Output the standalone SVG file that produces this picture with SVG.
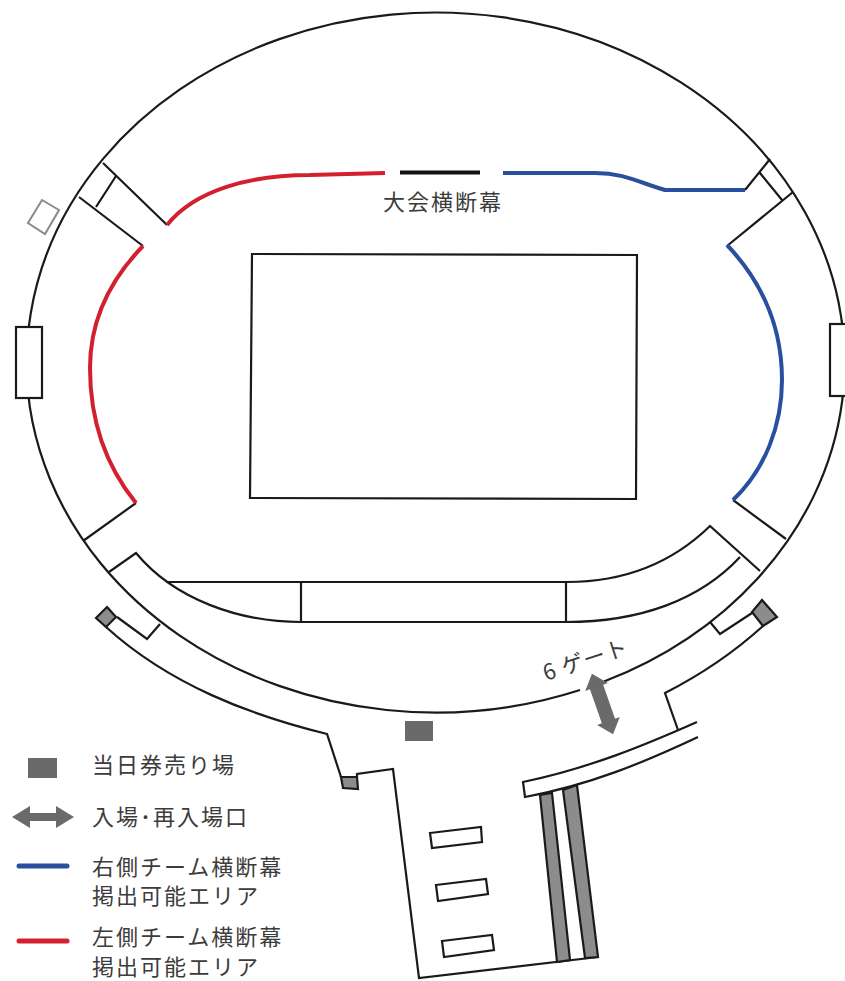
<svg xmlns="http://www.w3.org/2000/svg" width="845" height="981" viewBox="0 0 845 981">
<style>
.l{fill:none;stroke:#1a1a1a;stroke-width:2.2;stroke-linejoin:miter}
.w{fill:#fff;stroke:#1a1a1a;stroke-width:2.2}
.g{fill:#8c8c8c;stroke:#1a1a1a;stroke-width:2.2}
.s{fill:#6a6a6a;stroke:none}
.r{fill:none;stroke:#d3202e;stroke-width:4}
.b{fill:none;stroke:#2a4f9e;stroke-width:4}
text{font-family:"Noto Sans CJK JP","Noto Sans",sans-serif;font-size:22px;letter-spacing:2px;fill:#3c3c3c}
</style>
<defs>
<polygon id="arrow" class="s" points="-31,0 -13,-11 -13,-4 13,-4 13,-11 31,0 13,11 13,4 -13,4 -13,11"/>
<polygon id="gate-arrow" class="s" points="-32,0 -18,-12 -18,-7 18,-7 18,-12 32,0 18,12 18,7 -18,7 -18,12"/>
</defs>
<rect width="845" height="981" fill="#fff"/>
<g id="stadium-outline">
<path class="l" d="M604,681.500 A409,350 0 1 0 580,690"/>
<rect class="w" x="16" y="327" width="26" height="71"/>
<rect class="w" x="830" y="324" width="20" height="72"/>
<polygon points="42,200 59,210 45,234 28,223" fill="#fff" stroke="#8a8a8a" stroke-width="2"/>
</g>
<g id="pitch"><polygon class="w" points="252,254 637,255 636,499 250,498"/></g>
<g id="stands">
<path class="l" d="M143,246 L79,197 M167,225 L103,163 M116,176 L96,207"/>
<path class="l" d="M745,190 L770,159 M727,246 L793,192 M760,173 L782,200"/>
<path class="l" d="M136,503 L83,541 M733,500 L786,539"/>
<path class="l" d="M109,572 L136,553 C175,600 240,622 301,622 L566,622 C640,622 700,600 740,557"/>
<path class="l" d="M166,582 L567,582 C620,582 670,565 710,526 L760,571"/>
<path class="l" d="M301,582 V622 M566,582 V622"/>
</g>
<g id="banner-areas">
<path class="r" d="M143,246 C105,285 90,325 90,368 C90,420 105,465 136,503"/>
<path class="r" d="M167,225 C195,190 250,175 310,175 L385,173"/>
<path d="M400,172.500 H480" fill="none" stroke="#111" stroke-width="4"/>
<path class="b" d="M503,173 L595,173 C625,173 640,183 665,190 L745,190"/>
<path class="b" d="M727,245 C765,285 782,330 782,380 C782,425 765,470 733,500"/>
</g>
<g id="concourse">
<path class="l" d="M160,624 L147,639 L117,617 M106,627 C170,685 250,715 327,734 L341,777 M357,777 V774 L393,769 L419,978 L598,957"/>
<path class="l" d="M678,730 L665,693 Q720,665 763,626 M752,613 L720,634 L710,622"/>
<polygon class="g" points="107,607 116,617 106,627 96,618"/>
<polygon class="g" points="762,600 777,617 763,626 752,612"/>
<polygon class="g" points="341,777 357,777 358,789 343,788"/>
</g>
<g id="entrance-band">
<path class="l" d="M697,722 C645,745 590,768 523,782 L525,797 C590,785 645,762 698,737"/>
<polygon class="g" points="540,795 552,793 570,960 557,962"/>
<polygon class="g" points="563,790 577,785 598,957 585,958"/>
<polygon class="w" points="430,833 481,827 482,842 432,848"/>
<polygon class="w" points="436,885 486,879 488,894 438,901"/>
<polygon class="w" points="442,941 492,935 494,950 444,957"/>
</g>
<g id="ticket-booth"><rect class="s" x="405" y="721" width="28" height="20"/></g>
<g id="gate-6">
<use href="#gate-arrow" transform="translate(602.500,704) rotate(70.700)"/>
<text transform="translate(546,681) rotate(-18)" style="font-size:22px;letter-spacing:1px">6 ゲート</text>
</g>
<g id="banner-label"><text x="383" y="210">大会横断幕</text></g>
<g id="legend">
<rect class="s" x="28" y="758" width="29" height="20"/>
<use href="#arrow" transform="translate(43,817)"/>
<path d="M19,866 H67" stroke="#2a4f9e" stroke-width="5" stroke-linecap="round" fill="none"/>
<path d="M19,941 H67" stroke="#d3202e" stroke-width="5" stroke-linecap="round" fill="none"/>
<text x="92" y="773">当日券売り場</text>
<text x="92" y="825">入場･再入場口</text>
<text x="92" y="875">右側チーム横断幕</text>
<text x="92" y="904">掲出可能エリア</text>
<text x="92" y="945">左側チーム横断幕</text>
<text x="92" y="974.500">掲出可能エリア</text>
</g>
</svg>
